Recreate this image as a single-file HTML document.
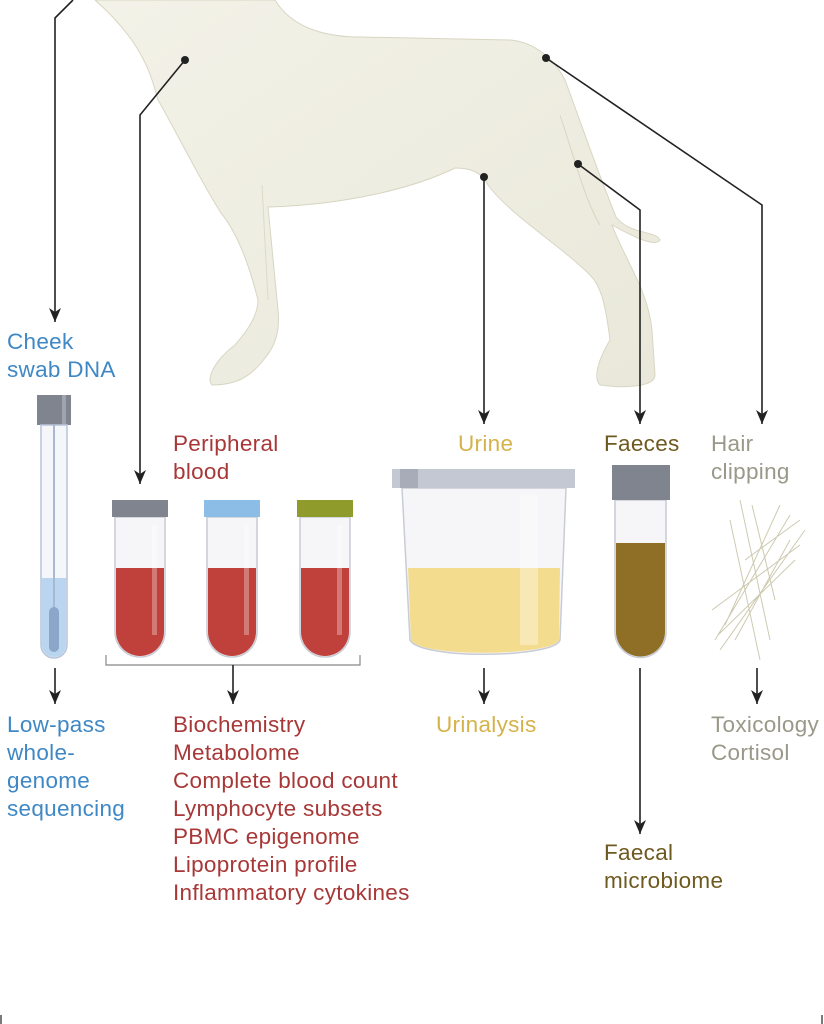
<!DOCTYPE html>
<html><head><meta charset="utf-8"><style>
html,body{margin:0;padding:0;background:#fff}
svg{display:block}
text{font-family:"Liberation Sans",sans-serif;font-size:22.5px;letter-spacing:0.3px}
.b{fill:#3f88c5}.r{fill:#a83838}.y{fill:#d6b24a}.o{fill:#6e5a20}.g{fill:#9a9888}
</style></head><body>
<svg width="824" height="1024" viewBox="0 0 824 1024" xmlns="http://www.w3.org/2000/svg">
<defs>
<marker id="a" markerWidth="15" markerHeight="12" refX="14" refY="6" orient="auto" markerUnits="userSpaceOnUse">
<path d="M0,0 L14,6 L0,12 L4,6 Z" fill="#222"/></marker>
<linearGradient id="dog" x1="0" y1="0" x2="1" y2="1"><stop offset="0" stop-color="#f3f2e8"/><stop offset="1" stop-color="#e9e8da"/></linearGradient>
</defs>
<path d="M95,0 L275,0 C290,25 320,37 360,37 L510,40 C535,42 555,60 565,80 C580,120 595,165 616,217 C630,235 655,230 660,240 C655,248 630,235 612,225 C625,260 648,290 652,330 L655,375 C655,388 620,388 600,385 C593,378 598,360 610,340 C605,300 600,285 590,275 C560,245 510,215 488,185 C482,172 470,168 455,168 C410,190 340,205 268,207 L278,310 C280,330 276,345 265,358 C250,378 235,385 212,385 C206,378 215,360 235,345 C248,330 258,315 258,300 C248,260 235,230 221,213 C200,180 170,120 158,100 C150,70 140,40 95,0 Z" fill="url(#dog)" stroke="#d8d6c2" stroke-width="1"/>
<path d="M560,115 C575,160 585,200 600,225" fill="none" stroke="#d8d6c2"/>
<path d="M262,185 L268,300" fill="none" stroke="#dcdac8"/>
<g stroke="#222" stroke-width="1.6" fill="none">
<path d="M73,0 L55,18 L55,322" marker-end="url(#a)"/>
<path d="M185,60 L140,115 L140,484" marker-end="url(#a)"/>
<path d="M484,177 L484,424" marker-end="url(#a)"/>
<path d="M578,164 L640,210 L640,424" marker-end="url(#a)"/>
<path d="M546,58 L762,205 L762,424" marker-end="url(#a)"/>
<path d="M55,668 L55,704" marker-end="url(#a)"/>
<path d="M106,655 L106,665 L360,665 L360,655" stroke="#888" stroke-width="1.2"/>
<path d="M233,665 L233,704" marker-end="url(#a)"/>
<path d="M484,668 L484,704" marker-end="url(#a)"/>
<path d="M640,668 L640,834" marker-end="url(#a)"/>
<path d="M757,668 L757,704" marker-end="url(#a)"/>
<path d="M1,1015 L1,1024 M822,1015 L822,1024" stroke-width="1.2"/>
</g>
<g fill="#222"><circle cx="185" cy="60" r="4"/><circle cx="546" cy="58" r="4"/><circle cx="484" cy="177" r="4"/><circle cx="578" cy="164" r="4"/></g>
<rect x="37" y="395" width="34" height="30" fill="#80848f"/><rect x="62" y="395" width="4" height="30" fill="#a0a4ae"/>
<path d="M41,425 L67,425 L67,645 A13,13 0 0 1 41,645 Z" fill="#f4f6fa" stroke="#b8c4d8" stroke-width="1.5"/>
<path d="M42,578 L66,578 L66,645 A12,12 0 0 1 42,645 Z" fill="#b9d5f0"/>
<line x1="54" y1="425" x2="54" y2="615" stroke="#a8b8d0" stroke-width="2"/>
<rect x="49" y="607" width="10" height="45" rx="5" fill="#8aa6c8"/>
<g id="bt">
<path d="M115,517 L165,517 L165,632 A25,25 0 0 1 115,632 Z" fill="#f6f6f8" stroke="#c8ccd6" stroke-width="1.5"/>
<path d="M116,568 L164,568 L164,632 A24,24 0 0 1 116,632 Z" fill="#c0413c"/>
<rect x="152" y="525" width="5" height="110" fill="#fff" opacity="0.3"/>
</g>
<rect x="112" y="500" width="56" height="17" fill="#80848f"/>
<use href="#bt" x="92"/><rect x="204" y="500" width="56" height="17" fill="#8cbde6"/>
<use href="#bt" x="185"/><rect x="297" y="500" width="56" height="17" fill="#8f9c2c"/>
<path d="M402,488 L566,488 L560,640 C555,658 420,660 410,640 Z" fill="#f6f6f8" stroke="#c8ccd6" stroke-width="1.5"/>
<path d="M408,568 L560,568 L559,640 C553,656 420,658 411,640 Z" fill="#f3dc8e"/>
<rect x="520" y="495" width="18" height="150" fill="#fff" opacity="0.35"/>
<rect x="392" y="469" width="183" height="19" fill="#c4c8d2"/><rect x="400" y="469" width="18" height="19" fill="#a8acb8"/>
<path d="M615,500 L666,500 L666,632 A25.5,25.5 0 0 1 615,632 Z" fill="#f6f6f8" stroke="#c8ccd6" stroke-width="1.5"/>
<path d="M616,543 L665,543 L665,632 A24.5,24.5 0 0 1 616,632 Z" fill="#8f6f25"/>
<rect x="612" y="465" width="58" height="35" fill="#80848f"/>
<g stroke="#c8c4a8" stroke-width="1" opacity="0.9">
<path d="M715,640 L790,515 M720,650 L805,530 M725,625 L780,505 M712,610 L800,545 M740,500 L770,640 M730,520 L760,660 M745,560 L800,520 M718,635 L795,560 M735,640 L790,540 M752,505 L775,600"/>
</g>
<text class="b" x="7" y="349">Cheek</text><text class="b" x="7" y="377">swab DNA</text>
<text class="r" x="173" y="451">Peripheral</text><text class="r" x="173" y="479">blood</text>
<text class="y" x="458" y="451">Urine</text>
<text class="o" x="604" y="451">Faeces</text>
<text class="g" x="711" y="451">Hair</text><text class="g" x="711" y="479">clipping</text>
<text class="b" x="7" y="732">Low-pass</text><text class="b" x="7" y="760">whole-</text><text class="b" x="7" y="788">genome</text><text class="b" x="7" y="816">sequencing</text>
<g class="r">
<text x="173" y="732">Biochemistry</text><text x="173" y="760">Metabolome</text><text x="173" y="788">Complete blood count</text><text x="173" y="816">Lymphocyte subsets</text><text x="173" y="844">PBMC epigenome</text><text x="173" y="872">Lipoprotein profile</text><text x="173" y="900">Inflammatory cytokines</text>
</g>
<text class="y" x="436" y="732">Urinalysis</text>
<text class="g" x="711" y="732">Toxicology</text><text class="g" x="711" y="760">Cortisol</text>
<text class="o" x="604" y="860">Faecal</text><text class="o" x="604" y="888">microbiome</text>
</svg>
</body></html>
